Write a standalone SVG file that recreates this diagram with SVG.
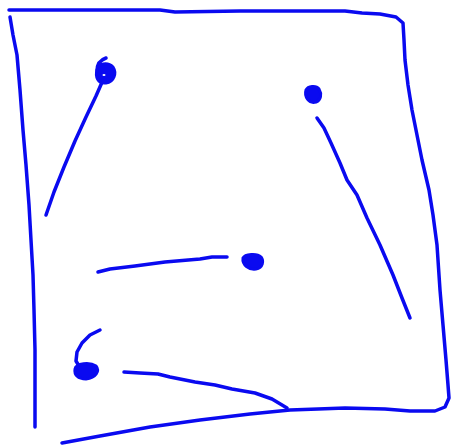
<svg xmlns="http://www.w3.org/2000/svg" width="458" height="446" viewBox="0 0 458 446">
<style>
.s{fill:none;stroke:#0a0af0;stroke-width:3.5;stroke-linecap:round;stroke-linejoin:round}
.d{fill:#0a0af0;stroke:#0a0af0;stroke-width:3}
</style>
<rect width="458" height="446" fill="#fff"/>
<g id="frame">
<path class="s" d="M9,10 L80,10 L160,10 L175,12 L240,11 L300,11 L345,11 L362,13 L380,14 L396,17 L403,23 L404,40 L405,60 L408,85 L412,110 L417,135 L422,160 L429,190 L433,215 L437,245 L440,290 L443,325 L446,360 L448,385 L449,398 L445,407 L435,411 L410,411 L385,409 L345,408 L318,409 L290,410 L250,414 L200,420 L150,427 L100,436 L62,443"/>
<path class="s" d="M10,17 L13,35 L17,55 L20,90 L23,130 L26,165 L29,205 L31,240 L33,275 L34,310 L35,350 L35,390 L35,427"/>
</g>
<g id="node-a">
<path class="s" d="M106,58 C100,60 97,64 97,71 M103,80 L96,96 L86,117 L75,141 L64,167 L54,192 L46,215"/>
<path class="d" d="M97,70 C98,63 108,62 113,67 C117,73 114,82 106,83 C98,84 95,77 97,70 Z"/>
<ellipse cx="104" cy="75" rx="1.5" ry="1" fill="#fff"/>
</g>
<g id="node-b">
<path class="d" d="M306,90 C308,86 316,85 319,89 C322,94 321,100 316,102 C309,104 304,97 306,90 Z"/>
<path class="s" d="M317,118 L324,128 L331,143 L340,163 L347,180 L357,195 L367,218 L380,245 L393,275 L402,298 L410,318"/>
</g>
<g id="node-c">
<path class="d" d="M243,258 C245,254 257,253 261,257 C264,261 263,268 256,269 C249,270 242,265 243,258 Z"/>
<path class="s" d="M98,272 L110,269 L135,266 L165,262 L200,259 L212,257 L227,257"/>
</g>
<g id="node-d">
<path class="s" d="M100,330 L90,335 L82,343 L77,352 L76,361 L79,366"/>
<path class="d" d="M75,369 C76,363 90,362 96,366 C100,371 96,378 86,379 C78,379 74,375 75,369 Z"/>
<path class="s" d="M124,372 L140,373 L158,374 L170,377 L195,382 L215,385 L232,389 L255,393 L272,399 L287,408"/>
</g>
</svg>
